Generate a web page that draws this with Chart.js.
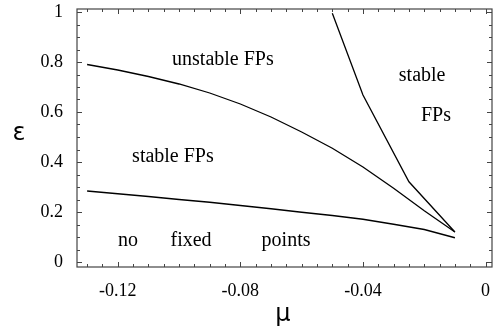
<!DOCTYPE html>
<html>
<head>
<meta charset="utf-8">
<script src="https://cdn.jsdelivr.net/npm/chart.js@4.4.0/dist/chart.umd.min.js"></script>
<style>
  html, body { margin: 0; padding: 0; background: #fff; }
  #wrap { width: 493px; height: 333px; }
</style>
</head>
<body>
<div id="wrap"><canvas id="phaseChart" width="493" height="333"></canvas></div>
<script>
// mu values where the two long boundaries were computed
const muGrid = [-0.13, -0.12, -0.11, -0.10, -0.09, -0.08, -0.07, -0.06, -0.05, -0.04, -0.03, -0.02, -0.01];
// upper boundary: stable FPs / unstable FPs
const upperEps = [0.79, 0.768, 0.742, 0.712, 0.676, 0.632, 0.58, 0.52, 0.455, 0.38, 0.295, 0.205, 0.12];
// lower boundary: no fixed points / stable FPs
const lowerEps = [0.284, 0.273, 0.262, 0.25, 0.239, 0.226, 0.213, 0.199, 0.186, 0.171, 0.151, 0.13, 0.097];
// steep boundary on the right
const muSteep = [-0.05, -0.04, -0.025, -0.01];
const steepEps = [0.995, 0.668, 0.321, 0.12];

// axis ticks
const xMajor = [-0.12, -0.08, -0.04, 0];
const xTickLabels = ['-0.12', '-0.08', '-0.04', '0'];
const yMajor = [0, 0.2, 0.4, 0.6, 0.8, 1];
const yTickLabels = ['0', '0.2', '0.4', '0.6', '0.8', '1'];

const regionLabels = [
    { text: 'unstable FPs', mu: -0.0857, eps: 0.788 },
    { text: 'stable', mu: -0.0207, eps: 0.724 },
    { text: 'FPs', mu: -0.0162, eps: 0.564 },
    { text: 'stable FPs', mu: -0.102, eps: 0.40 },
    { text: 'no', mu: -0.1167, eps: 0.064 },
    { text: 'fixed', mu: -0.0961, eps: 0.064 },
    { text: 'points', mu: -0.0651, eps: 0.064 }
];

// minor tick positions (every 0.005 on mu, every 0.05 on epsilon)
const xMinor = [];
for (let i = -26; i <= 0; i++) xMinor.push(+(i * 0.005).toFixed(3));
const yMinor = [];
for (let i = 0; i <= 20; i++) yMinor.push(+(i * 0.05).toFixed(2));

const isMajor = (list, v) => list.some(m => Math.abs(m - v) < 1e-9);

const serif = '"Liberation Serif", "Times New Roman", serif';
const frameColor = '#444';

const toPoints = (xs, ys) => xs.map((x, i) => ({ x: x, y: ys[i] }));

const lineStyle = {
    borderColor: '#000',
    borderWidth: 1.3,
    pointRadius: 0,
    tension: 0,
    fill: false
};

// frame with inward ticks on all four sides
const framePlugin = {
    id: 'frame',
    afterDatasetsDraw(chart) {
        const { ctx, chartArea: a, scales: { x, y } } = chart;
        ctx.save();
        ctx.strokeStyle = frameColor;
        ctx.lineWidth = 1.2;
        ctx.strokeRect(a.left, a.top, a.right - a.left, a.bottom - a.top);
        ctx.lineWidth = 1;
        ctx.beginPath();
        xMinor.forEach(v => {
            const px = Math.round(x.getPixelForValue(v)) + 0.5;
            const len = isMajor(xMajor, v) ? 5 : 3;
            ctx.moveTo(px, a.bottom); ctx.lineTo(px, a.bottom - len);
            ctx.moveTo(px, a.top); ctx.lineTo(px, a.top + len);
        });
        yMinor.forEach(v => {
            const py = Math.round(y.getPixelForValue(v)) + 0.5;
            const len = isMajor(yMajor, v) ? 5 : 3;
            ctx.moveTo(a.left, py); ctx.lineTo(a.left + len, py);
            ctx.moveTo(a.right, py); ctx.lineTo(a.right - len, py);
        });
        ctx.stroke();
        ctx.restore();
    }
};

// region names and axis symbols
const textPlugin = {
    id: 'texts',
    afterDraw(chart) {
        const { ctx, scales: { x, y } } = chart;
        ctx.save();
        ctx.fillStyle = '#000';
        ctx.textAlign = 'center';
        ctx.textBaseline = 'alphabetic';
        ctx.font = '20px ' + serif;
        regionLabels.forEach(l => {
            ctx.fillText(l.text, x.getPixelForValue(l.mu), y.getPixelForValue(l.eps));
        });
        ctx.textBaseline = 'middle';
        ctx.font = '24px "DejaVu Sans", sans-serif';
        ctx.fillText('\u03B5', 19, 134);
        ctx.fillText('\u03BC', 283, 315);
        ctx.restore();
    }
};

const ctx = document.getElementById('phaseChart').getContext('2d');
const phaseChart = new Chart(ctx, {
    type: 'scatter',
    data: {
        datasets: [
            { ...lineStyle, showLine: true, data: toPoints(muGrid, upperEps) },
            { ...lineStyle, showLine: true, data: toPoints(muGrid, lowerEps) },
            { ...lineStyle, showLine: true, data: toPoints(muSteep, steepEps) }
        ]
    },
    options: {
        responsive: false,
        animation: false,
        layout: { padding: { top: 9, right: 1, left: 0, bottom: 0 } },
        plugins: {
            legend: { display: false },
            tooltip: { enabled: false }
        },
        scales: {
            x: {
                type: 'linear',
                min: -0.1333,
                max: 0.0021,
                grid: { display: false, drawTicks: false },
                border: { display: false },
                afterBuildTicks: scale => {
                    scale.ticks = xMinor.map(v => ({ value: v }));
                },
                afterFit: scale => {
                    scale.height = 66;
                    scale.paddingLeft = 0; scale.paddingRight = 0;
                    scale.paddingTop = 0; scale.paddingBottom = 0;
                },
                ticks: {
                    autoSkip: false,
                    maxRotation: 0,
                    padding: 15,
                    color: '#000',
                    font: { family: serif, size: 18, lineHeight: 1 },
                    callback: value => {
                        const i = xMajor.findIndex(m => Math.abs(m - value) < 1e-9);
                        return i >= 0 ? xTickLabels[i] : '';
                    }
                }
            },
            y: {
                type: 'linear',
                min: -0.02,
                max: 1.012,
                grid: { display: false, drawTicks: false },
                border: { display: false },
                afterBuildTicks: scale => {
                    scale.ticks = yMinor.map(v => ({ value: v }));
                },
                afterFit: scale => {
                    scale.width = 77;
                    scale.paddingLeft = 0; scale.paddingRight = 0;
                    scale.paddingTop = 0; scale.paddingBottom = 0;
                },
                ticks: {
                    autoSkip: false,
                    padding: 14,
                    color: '#000',
                    font: { family: serif, size: 18, lineHeight: 1 },
                    callback: value => {
                        const i = yMajor.findIndex(m => Math.abs(m - value) < 1e-9);
                        return i >= 0 ? yTickLabels[i] : '';
                    }
                }
            }
        }
    },
    plugins: [framePlugin, textPlugin]
});
</script>
</body>
</html>
